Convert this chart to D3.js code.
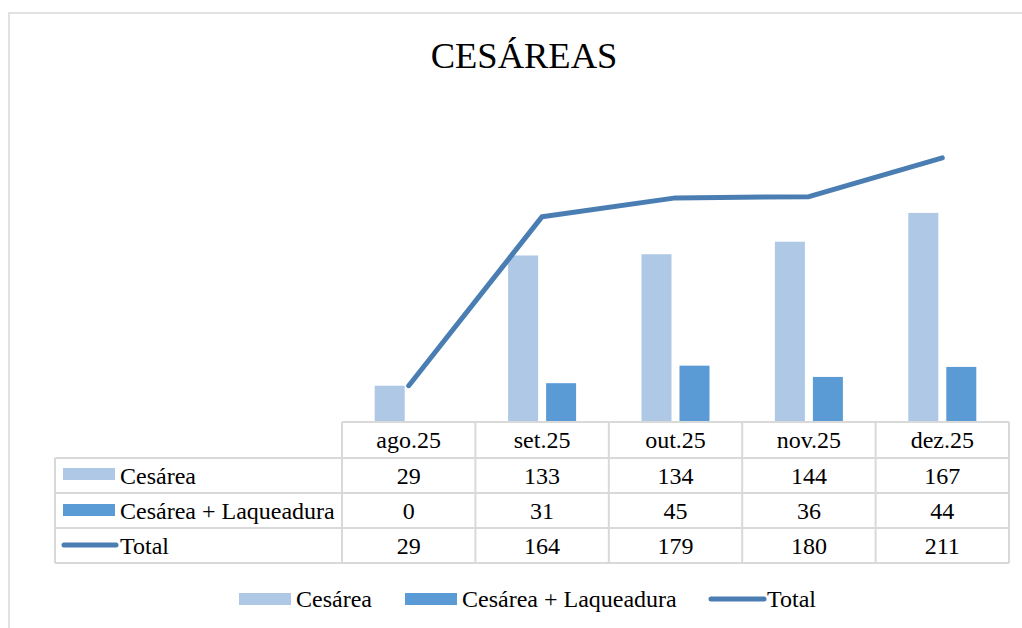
<!DOCTYPE html>
<html><head><meta charset="utf-8">
<script src="https://cdn.jsdelivr.net/npm/d3@7"></script>
<style>
html,body{margin:0;padding:0;background:#fff;}
svg{display:block;}
text{font-family:'Liberation Serif','Times New Roman','DejaVu Serif',serif;}
</style></head>
<body>
<svg id="c" width="1022" height="628"></svg>
<script>
const title = "CESÁREAS";
const categories = ["ago.25","set.25","out.25","nov.25","dez.25"];
const seriesNames = ["Cesárea","Cesárea + Laqueadura","Total"];
const cesarea = [29,133,134,144,167];
const laqueadura = [0,31,45,36,44];
const total = [29,164,179,180,211];
const yMax = 250;

const FF = "'Liberation Serif','Times New Roman','DejaVu Serif',serif";
const colLight = "#aec8e6", colDark = "#5b9bd5", colLine = "#4a7eb3", grid = "#d9d9d9";
const svg = d3.select("#c");

// chart border
svg.append("rect").attr("x",9).attr("y",13).attr("width",1030).attr("height",640)
  .attr("fill","none").attr("stroke","#d9d9d9").attr("stroke-width",1.5);

svg.append("text").attr("x",524).attr("y",68).attr("text-anchor","middle")
  .attr("font-family",FF).attr("font-size",36.5).attr("fill","#000").text(title);

const plotL = 342, plotR = 1009, base = 422;
const x = d3.scaleBand().domain(categories).range([plotL, plotR]).padding(0);
const y = d3.scaleLinear().domain([0,yMax]).range([base, base - 313]);
const x1 = d3.scaleBand().domain(["c","l"]).range([-34,34]).paddingInner(8/38);
const cx = c => x(c) + x.bandwidth()/2;

const g = svg.append("g");
g.selectAll("rect.c").data(categories).enter().append("rect")
  .attr("x", (c)=>cx(c)+x1("c")).attr("width", x1.bandwidth())
  .attr("y", (c,i)=>y(cesarea[i])).attr("height",(c,i)=>y(0)-y(cesarea[i])).attr("fill",colLight);
g.selectAll("rect.l").data(categories).enter().append("rect")
  .attr("x", (c)=>cx(c)+x1("l")).attr("width", x1.bandwidth())
  .attr("y", (c,i)=>y(laqueadura[i])).attr("height",(c,i)=>y(0)-y(laqueadura[i])).attr("fill",colDark);

const line = d3.line().x((d,i)=>cx(categories[i])).y(d=>y(d));
g.append("path").datum(total).attr("d",line).attr("fill","none")
  .attr("stroke",colLine).attr("stroke-width",5).attr("stroke-linecap","round").attr("stroke-linejoin","round");

// data table
const tableL = 55;
const rowY = [422, 458, 493, 528, 563];
const T = svg.append("g").attr("stroke",grid).attr("stroke-width",2).attr("fill","none");
T.append("line").attr("x1",plotL).attr("x2",plotR).attr("y1",rowY[0]).attr("y2",rowY[0]);
for (let k=1;k<rowY.length;k++) T.append("line").attr("x1",tableL).attr("x2",plotR).attr("y1",rowY[k]).attr("y2",rowY[k]);
const edges = categories.map(c=>x(c)).concat([plotR]);
edges.forEach(e=>T.append("line").attr("x1",e).attr("x2",e).attr("y1",rowY[0]).attr("y2",rowY[4]));
T.append("line").attr("x1",tableL).attr("x2",tableL).attr("y1",rowY[1]).attr("y2",rowY[4]);

const fs = 24;
const txt = svg.append("g").attr("font-family",FF).attr("font-size",fs).attr("fill","#000");
categories.forEach(c=>txt.append("text").attr("x",cx(c)).attr("y",rowY[1]-10).attr("text-anchor","middle").text(c));
[cesarea, laqueadura, total].forEach((arr,r)=>{
  arr.forEach((v,i)=>txt.append("text").attr("x",cx(categories[i])).attr("y",rowY[r+2]-9).attr("text-anchor","middle").text(v));
  txt.append("text").attr("x",120).attr("y",rowY[r+2]-9).text(seriesNames[r]);
});
svg.append("rect").attr("x",63).attr("y",468).attr("width",52).attr("height",12).attr("fill",colLight);
svg.append("rect").attr("x",63).attr("y",504).attr("width",52).attr("height",12).attr("fill",colDark);
svg.append("line").attr("x1",64).attr("x2",116).attr("y1",545).attr("y2",545)
  .attr("stroke",colLine).attr("stroke-width",5).attr("stroke-linecap","round");

// legend
const lg = svg.append("g").attr("font-family",FF).attr("font-size",fs).attr("fill","#000");
lg.append("rect").attr("x",239).attr("y",593).attr("width",52).attr("height",12).attr("fill",colLight);
lg.append("text").attr("x",296).attr("y",607).text(seriesNames[0]);
lg.append("rect").attr("x",405).attr("y",593).attr("width",52).attr("height",12).attr("fill",colDark);
lg.append("text").attr("x",462).attr("y",607).text(seriesNames[1]);
lg.append("line").attr("x1",711).attr("x2",764).attr("y1",599).attr("y2",599)
  .attr("stroke",colLine).attr("stroke-width",5).attr("stroke-linecap","round");
lg.append("text").attr("x",767).attr("y",607).text(seriesNames[2]);
</script>
</body></html>
